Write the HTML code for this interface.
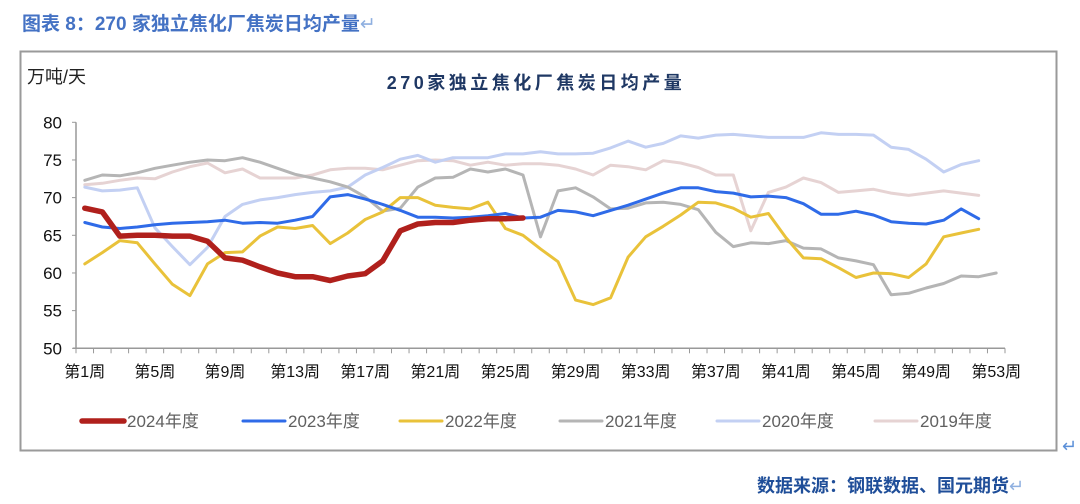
<!DOCTYPE html>
<html><head><meta charset="utf-8">
<style>
body{margin:0;background:#fff;width:1080px;height:504px;overflow:hidden;font-family:"Liberation Sans","Noto Sans CJK SC",sans-serif;}
#hdr{position:absolute;left:22px;top:9px;font-size:19px;font-weight:bold;color:#4472C4;}
#src{position:absolute;left:757px;top:472px;font-size:18px;font-weight:bold;color:#1F4E99;}
svg{position:absolute;left:0;top:0;}
</style></head><body>
<div id="hdr">图表 8：270 家独立焦化厂焦炭日均产量<span style="color:#8fb0e0;font-weight:normal">↵</span></div>
<svg id="chart" width="1080" height="504">
<rect x="20.5" y="51.5" width="1036" height="399" fill="none" stroke="#9a9a9a" stroke-width="2"/>
<text x="1062" y="452" font-size="18" fill="#5b8fd8">↵</text>
<text x="27" y="83" font-size="18" fill="#222">万吨/天</text>
<text x="536" y="89" font-size="18" font-weight="bold" fill="#1F3864" text-anchor="middle" letter-spacing="3.5">270家独立焦化厂焦炭日均产量</text>
<g id="axes"></g><g id="series"></g><g id="legend"></g>
</svg>
<div id="src">数据来源：钢联数据、国元期货<span style="color:#8fb0e0;font-weight:normal">↵</span></div>
<script>
const yTicks=[50,55,60,65,70,75,80];
const xLabels=["第1周","第5周","第9周","第13周","第17周","第21周","第25周","第29周","第33周","第37周","第41周","第45周","第49周","第53周"];
const xLabelWeeks=[1,5,9,13,17,21,25,29,33,37,41,45,49,53];
const seriesNames=["2024年度","2023年度","2022年度","2021年度","2020年度","2019年度"];
const v2024=[68.6,68.1,64.9,65.0,65.0,64.9,64.9,64.2,62.0,61.7,60.8,60.0,59.5,59.5,59.0,59.6,59.9,61.6,65.6,66.5,66.7,66.7,67.0,67.2,67.2,67.3];
const v2023=[66.7,66.1,65.9,66.1,66.4,66.6,66.7,66.8,67.0,66.6,66.7,66.6,67.0,67.5,70.1,70.4,69.8,69.1,68.3,67.4,67.4,67.3,67.4,67.6,67.9,67.3,67.4,68.3,68.1,67.6,68.3,69.0,69.8,70.6,71.3,71.3,70.8,70.6,70.1,70.2,70.0,69.2,67.8,67.8,68.2,67.7,66.8,66.6,66.5,67.0,68.5,67.2];
const v2022=[61.2,62.7,64.3,64.0,61.2,58.5,57.0,61.2,62.7,62.8,64.9,66.1,65.9,66.3,63.9,65.3,67.1,68.1,70.0,70.0,69.0,68.7,68.5,69.4,65.9,65.0,63.2,61.5,56.4,55.8,56.7,62.1,64.8,66.2,67.7,69.4,69.3,68.6,67.4,67.9,64.7,62.0,61.9,60.7,59.4,60.0,59.9,59.4,61.2,64.8,65.3,65.8];
const v2021=[72.3,73.0,72.9,73.3,73.9,74.3,74.7,75.0,74.9,75.3,74.7,73.9,73.1,72.6,72.1,71.4,70.1,68.2,68.6,71.4,72.6,72.7,73.8,73.4,73.8,73.0,64.8,70.9,71.3,70.1,68.5,68.6,69.3,69.4,69.1,68.4,65.4,63.5,64.0,63.9,64.3,63.3,63.2,62.0,61.6,61.1,57.1,57.3,58.0,58.6,59.6,59.5,60.0];
const v2020=[71.4,70.9,71.0,71.3,66.0,63.5,61.1,63.4,67.5,69.1,69.7,70.0,70.4,70.7,70.9,71.4,73.0,74.0,75.1,75.6,74.7,75.3,75.3,75.3,75.8,75.8,76.1,75.8,75.8,75.9,76.6,77.5,76.7,77.2,78.2,77.9,78.3,78.4,78.2,78.0,78.0,78.0,78.6,78.4,78.4,78.3,76.7,76.4,75.1,73.4,74.4,74.9];
const v2019=[71.7,71.9,72.3,72.6,72.5,73.4,74.1,74.6,73.3,73.8,72.6,72.6,72.6,73.0,73.7,73.9,73.9,73.7,74.3,74.9,75.0,74.9,74.3,74.7,74.3,74.5,74.5,74.3,73.8,73.0,74.3,74.1,73.7,74.9,74.6,74.0,73.0,73.0,65.6,70.7,71.4,72.6,72.0,70.7,70.9,71.1,70.6,70.3,70.6,70.9,70.6,70.3];
const allSeries=[v2024,v2023,v2022,v2021,v2020,v2019];
const colors=["#B0201C","#2F6BE8","#E9C23A","#B5B5B5","#C3D0F3","#E6D3D3"];
const widths=[5.5,3,3,3,3,3];

const NS="http://www.w3.org/2000/svg";
const X0=76,X1=1005,NW=53,Y0=348.3,Y1=122.3,VMIN=50,VMAX=80;
const xs=w=>X0+(w-0.5)*(X1-X0)/NW;
const ys=v=>Y0-(v-VMIN)/(VMAX-VMIN)*(Y0-Y1);
function mk(tag,attrs,parent){const e=document.createElementNS(NS,tag);for(const k in attrs)e.setAttribute(k,attrs[k]);parent.appendChild(e);return e;}
const axes=document.getElementById('axes');
let ax=mk('line',{x1:X0,y1:Y1,x2:X0,y2:Y0,stroke:'#999','stroke-width':1.5},axes);

let bx=mk('line',{x1:X0-3,y1:Y0,x2:X1,y2:Y0,stroke:'#999','stroke-width':1.5},axes);

yTicks.forEach(t=>{
  mk('line',{x1:X0-4,y1:ys(t),x2:X0,y2:ys(t),stroke:'#999','stroke-width':1},axes);
  const tx=mk('text',{x:62,y:ys(t)+6,'font-size':17,'text-anchor':'end',fill:'#111'},axes);
  tx.textContent=t;
  
  
});
for(let i=0;i<=NW;i++){const x=X0+i*(X1-X0)/NW;mk('line',{x1:x,y1:Y0,x2:x,y2:Y0+5,stroke:'#999','stroke-width':1},axes);}
xLabels.forEach((l,i)=>{
  const tx=mk('text',{x:xs(xLabelWeeks[i]),y:377,'font-size':16,'text-anchor':'middle',fill:'#111'},axes);
  tx.textContent=l;
  
  
});
const sg=document.getElementById('series');
for(let s=allSeries.length-1;s>=0;s--){
  const pts=allSeries[s].map((v,i)=>xs(i+1).toFixed(1)+','+ys(v).toFixed(1)).join(' ');
  const p=mk('polyline',{points:pts,fill:'none',stroke:colors[s],'stroke-width':widths[s],'stroke-linejoin':'round','stroke-linecap':'round'},sg);
  
  
}
const lg=document.getElementById('legend');
const lx=[82,243,400,560,717,875];
seriesNames.forEach((n,i)=>{
  const g=mk('g',{},lg);
  
  
  mk('line',{x1:lx[i],y1:421,x2:lx[i]+42,y2:421,stroke:colors[i],'stroke-width':widths[i],'stroke-linecap':'round'},g);
  const t=mk('text',{x:lx[i]+45,y:427,'font-size':17,fill:'#606060'},g);
  t.textContent=n;
});
</script>
</body></html>
